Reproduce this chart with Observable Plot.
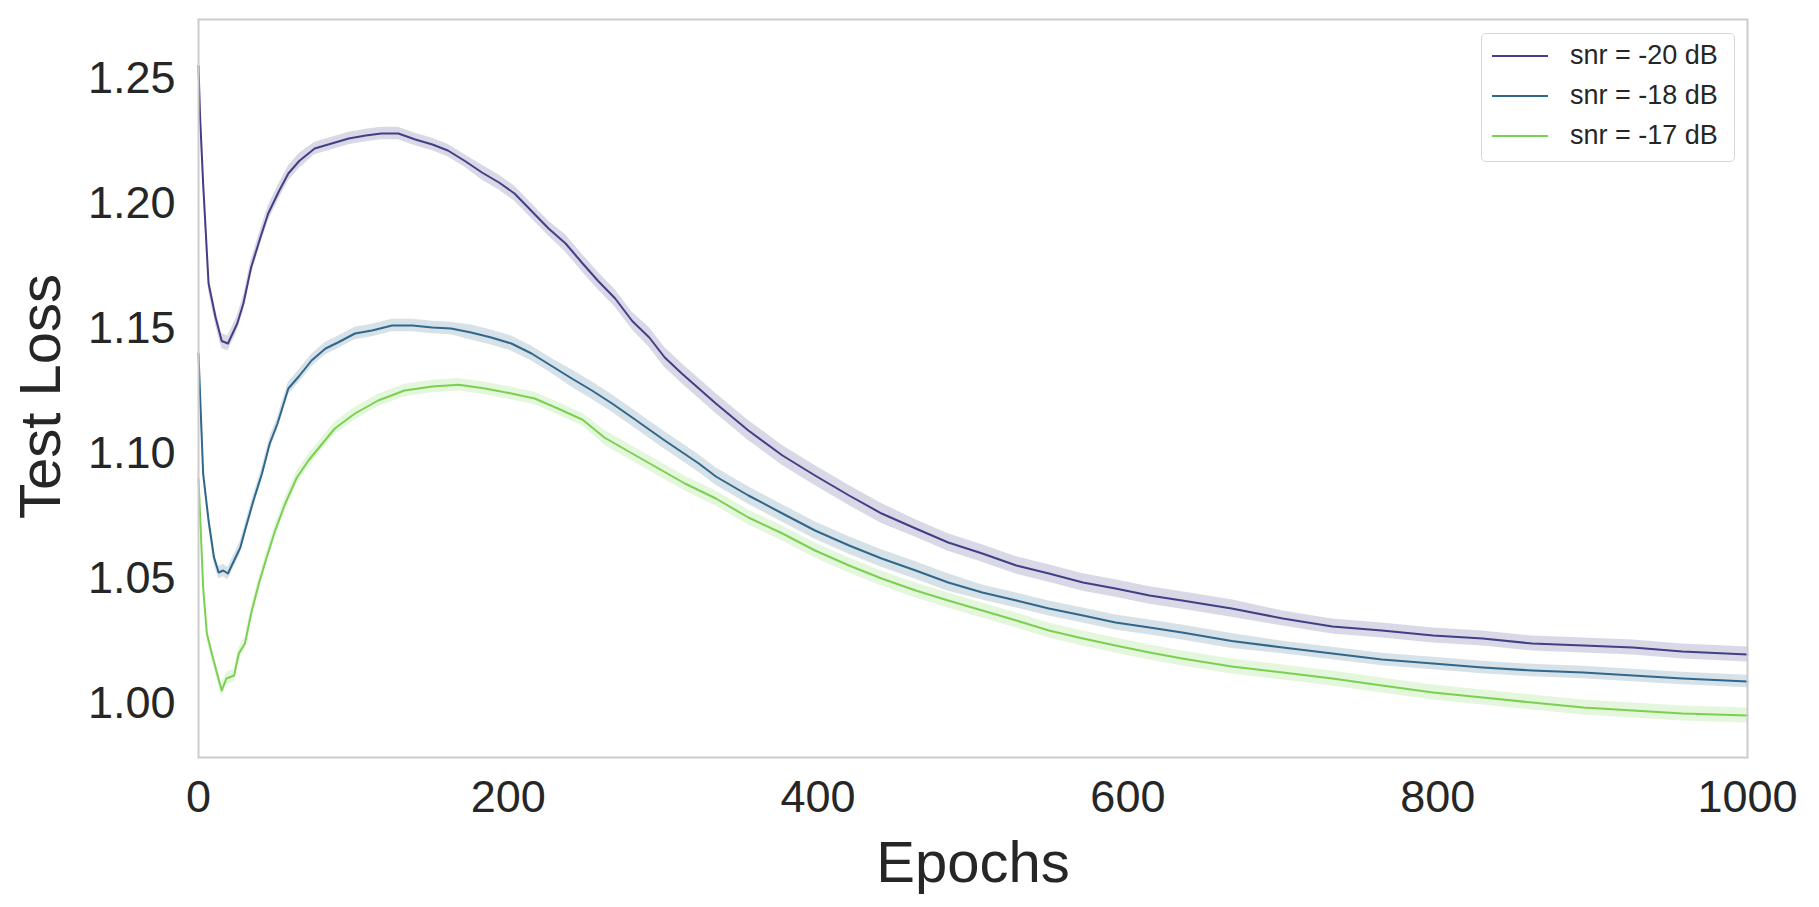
<!DOCTYPE html>
<html>
<head>
<meta charset="utf-8">
<script src="https://cdn.jsdelivr.net/npm/d3@7"></script>
<script src="https://cdn.jsdelivr.net/npm/@observablehq/plot@0.6"></script>
<style>
  html, body { margin: 0; padding: 0; background: #fff; }
  #wrap { position: relative; width: 1819px; height: 907px; }
  #legend {
    position: absolute; left: 1481px; top: 33px; width: 252px; height: 127px;
    border: 1.5px solid #d6d6d6; border-radius: 5px; background: rgba(255,255,255,0.85);
    font-family: "Liberation Sans", Arial, sans-serif; font-size: 27px; color: #262626;
  }
  .row { position: absolute; left: 0; height: 40px; width: 100%; }
  .row .sw { position: absolute; left: 10px; width: 56px; height: 0; border-top: 2px solid; top: 19px; }
  .row .lb { position: absolute; left: 88px; top: 4px; line-height: 30px; white-space: nowrap; }
</style>
</head>
<body>
<div id="wrap"></div>
<script>
// ---- data ----
const seriesNames = ["snr = -20 dB", "snr = -18 dB", "snr = -17 dB"];
const seriesColors = ["#433e85", "#30678d", "#7ad151"];

const epochs20 = [0,1,3,6.5,11,15,19,25,29,34,40,45,52,58,65,75,86,97,108,118,129,140,151,161,172,183,194,204,215,226,237,248,258,269,280,291,301,312,323,334,355,377,398,420,441,463,484,506,528,549,571,592,614,635,667,700,732,764,797,829,861,894,926,958,1000];
const loss20 = [1.255,1.235,1.208,1.168,1.1545,1.145,1.144,1.152,1.160,1.1745,1.1865,1.196,1.205,1.212,1.217,1.222,1.224,1.226,1.2272,1.228,1.228,1.2256,1.2236,1.2212,1.217,1.2124,1.2084,1.204,1.197,1.190,1.184,1.176,1.169,1.162,1.153,1.1464,1.1384,1.132,1.126,1.120,1.1092,1.0992,1.0912,1.0832,1.076,1.070,1.0644,1.060,1.0552,1.052,1.0484,1.046,1.0432,1.0412,1.038,1.034,1.0308,1.0292,1.0272,1.026,1.024,1.0232,1.0224,1.0208,1.0196];
const ci20 = [0.004,0.003,0.003,0.003,0.003,0.003,0.003,0.003,0.003,0.003,0.003,0.003,0.003,0.003,0.003,0.0025,0.0025,0.0025,0.0025,0.0025,0.0025,0.0025,0.0025,0.0025,0.0025,0.003,0.003,0.003,0.003,0.003,0.0035,0.0035,0.0035,0.0035,0.0035,0.004,0.004,0.004,0.004,0.004,0.004,0.004,0.004,0.004,0.004,0.0035,0.0035,0.0035,0.0035,0.0035,0.0035,0.0035,0.0035,0.0035,0.0035,0.003,0.003,0.003,0.003,0.003,0.003,0.003,0.003,0.003,0.003];

const epochs18 = [0,3,6.5,10,13,16,19,23,27,30,35.5,41,46,51,58,65,73,82,90,101,112,125,138,151,163,176,189,202,215,228,241,254,267,280,290,301,323,334,355,377,398,420,441,463,484,506,528,549,571,592,614,635,667,700,732,764,797,829,861,894,926,958,1000];
const loss18 = [1.140,1.092,1.0732,1.0584,1.0524,1.0532,1.052,1.0572,1.0624,1.0692,1.0812,1.092,1.104,1.112,1.126,1.131,1.1372,1.142,1.1444,1.148,1.1492,1.1512,1.1512,1.1504,1.150,1.1484,1.1464,1.144,1.140,1.135,1.130,1.1252,1.120,1.1144,1.110,1.1052,1.096,1.0908,1.0832,1.076,1.0692,1.0632,1.058,1.0532,1.0484,1.0444,1.0412,1.038,1.0352,1.0324,1.0304,1.0284,1.025,1.0224,1.020,1.0176,1.016,1.0144,1.0132,1.0124,1.0112,1.010,1.0088];
const ci18 = [0.003,0.0025,0.0025,0.0025,0.0025,0.0025,0.0025,0.0025,0.0025,0.0025,0.0025,0.0025,0.0025,0.0025,0.0025,0.0025,0.0025,0.0025,0.0025,0.0025,0.0025,0.0025,0.0025,0.0025,0.0025,0.003,0.003,0.003,0.003,0.003,0.0035,0.0035,0.0035,0.0035,0.0035,0.0035,0.0035,0.0035,0.0035,0.0035,0.0035,0.0035,0.0035,0.0035,0.0035,0.003,0.003,0.003,0.003,0.003,0.003,0.003,0.003,0.0025,0.0025,0.0025,0.0025,0.0025,0.0025,0.0025,0.0025,0.0025,0.0025];

const epochs17 = [0,1,3,5.4,8.6,12,15,18,23,26,30,34,39,44,49.5,56,63.5,71,80,88,101,116,133,151,168,185,202,217,232,248,262,280,297,314,334,355,377,398,420,441,463,484,506,528,549,571,592,614,635,667,700,732,764,797,829,861,894,926,958,1000];
const loss17 = [1.090,1.076,1.0464,1.028,1.020,1.012,1.0052,1.010,1.0112,1.020,1.024,1.036,1.048,1.0584,1.0692,1.080,1.0904,1.0972,1.104,1.110,1.116,1.1212,1.1252,1.1268,1.1275,1.126,1.124,1.122,1.118,1.1135,1.1064,1.100,1.094,1.088,1.082,1.0744,1.068,1.0612,1.0552,1.050,1.0452,1.0412,1.0372,1.0332,1.0292,1.026,1.0232,1.0204,1.018,1.0148,1.0124,1.010,1.0072,1.0044,1.0024,1.0004,0.9984,0.9972,0.996,0.9952];
const ci17 = [0.003,0.0025,0.0025,0.0025,0.0025,0.0025,0.0025,0.0025,0.0025,0.0025,0.0025,0.0025,0.0025,0.0025,0.0025,0.0025,0.0025,0.0025,0.0025,0.0025,0.0025,0.0025,0.0025,0.0025,0.0025,0.0025,0.0025,0.0025,0.0025,0.0025,0.003,0.003,0.003,0.003,0.003,0.003,0.003,0.003,0.003,0.003,0.003,0.003,0.003,0.003,0.003,0.003,0.003,0.003,0.003,0.003,0.003,0.003,0.003,0.003,0.003,0.003,0.003,0.003,0.003,0.003];

const xTicks = [0, 200, 400, 600, 800, 1000];
const yTicks = [1.00, 1.05, 1.10, 1.15, 1.20, 1.25];

// ---- build table ----
const raw = [[epochs20, loss20, ci20], [epochs18, loss18, ci18], [epochs17, loss17, ci17]];
const rows = [];
raw.forEach(([ep, ls, ci], s) => {
  ep.forEach((e, i) => rows.push({series: seriesNames[s], epoch: e, loss: ls[i], lo: ls[i] - ci[i], hi: ls[i] + ci[i]}));
});

const font = '"Liberation Sans", Arial, sans-serif';
const chart = Plot.plot({
  width: 1819,
  height: 907,
  marginLeft: 198,
  marginRight: 72,
  marginTop: 19,
  marginBottom: 150,
  style: {fontFamily: font, fontSize: "45px", color: "#262626", background: "#fff", overflow: "visible"},
  x: {domain: [0, 1000], ticks: xTicks, tickFormat: d3.format("d"), tickSize: 0, tickPadding: 23, label: null},
  y: {domain: [0.9784, 1.2736], ticks: yTicks, tickFormat: d3.format(".2f"), tickSize: 0, tickPadding: 23, label: null},
  color: {domain: seriesNames, range: seriesColors},
  marks: [
    Plot.areaY(rows, {x: "epoch", y1: "lo", y2: "hi", z: "series", fill: "series", fillOpacity: 0.2}),
    Plot.lineY(rows, {x: "epoch", y: "loss", z: "series", stroke: "series", strokeWidth: 2}),
    Plot.frame({stroke: "#cccccc", strokeWidth: 2}),
    Plot.text(["Epochs"], {frameAnchor: "bottom", dy: 83, lineAnchor: "top", textAnchor: "middle", fontSize: 58, fill: "#262626"}),
    Plot.text(["Test Loss"], {frameAnchor: "left", dx: -157, dy: 8, rotate: -90, textAnchor: "middle", lineAnchor: "middle", fontSize: 58, fill: "#262626"})
  ]
});
const wrap = document.getElementById("wrap");
wrap.appendChild(chart);

// ---- legend ----
const legend = document.createElement("div");
legend.id = "legend";
seriesNames.forEach((name, i) => {
  const row = document.createElement("div");
  row.className = "row";
  row.style.top = (2 + i * 40) + "px";
  const sw = document.createElement("div");
  sw.className = "sw";
  sw.style.borderTopColor = seriesColors[i];
  const lb = document.createElement("div");
  lb.className = "lb";
  lb.textContent = name;
  row.appendChild(sw); row.appendChild(lb);
  legend.appendChild(row);
});
wrap.appendChild(legend);
</script>
</body>
</html>
